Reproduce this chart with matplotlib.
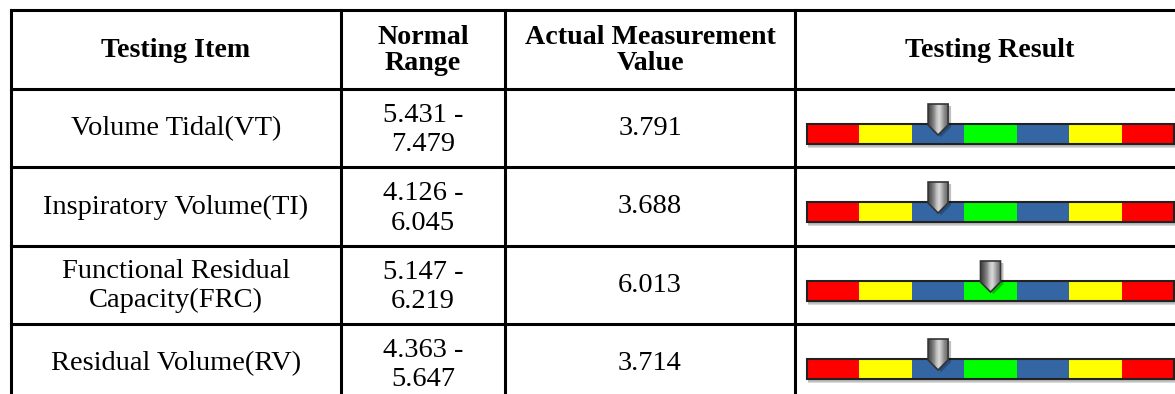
import numpy as np
import matplotlib
matplotlib.use('Agg')
import matplotlib.pyplot as plt
from matplotlib.patches import Rectangle, Polygon

headers = ['Testing Item', 'Normal\nRange', 'Actual Measurement\nValue', 'Testing Result']
items = ['Volume Tidal(VT)', 'Inspiratory Volume(TI)',
         'Functional Residual\nCapacity(FRC)', 'Residual Volume(RV)']
range_lo = ['5.431', '4.126', '5.147', '4.363']
range_hi = ['7.479', '6.045', '6.219', '5.647']
measured = ['3.791', '3.688', '6.013', '3.714']
# which band of the result bar the pointer sits on (0..6)
level = [2, 2, 3, 2]
band_colors = ['#ff0000', '#ffff00', '#3366a3', '#00ff00', '#3366a3', '#ffff00', '#ff0000']

# layout in pixels
W, H = 1175, 394
col_x = [11, 341, 505, 795, 1185]
row_y = [10, 89, 167, 246, 324, 402]
bar_x0, bar_w, bar_h = 807, 367, 20

plt.rcParams['font.family'] = ['Liberation Serif', 'DejaVu Serif']
fig = plt.figure(figsize=(W / 100, H / 100), dpi=100)
ax = fig.add_axes([0, 0, 1, 1])
ax.axis('off')

# grid lines
for y in row_y:
    ax.plot([col_x[0], col_x[-1]], [y, y], color='black', lw=2.2, solid_capstyle='projecting')
for x in col_x[:-1]:
    ax.plot([x, x], [row_y[0], row_y[-1]], color='black', lw=2.2)

# header
hc = (row_y[0] + row_y[1]) / 2 + 1
for i, h in enumerate(headers):
    cx = (col_x[i] + col_x[i + 1]) / 2
    ax.text(cx, hc, h, ha='center', va='center', fontsize=20.2, fontweight='bold',
            linespacing=1.03)

seg = bar_w / len(band_colors)
grad = np.array([[0.30, 0.42, 0.55, 0.75, 0.85, 0.72, 0.55, 0.45]])
for r in range(len(items)):
    top, bot = row_y[r + 1], row_y[r + 2]
    cy = (top + bot) / 2
    ax.text((col_x[0] + col_x[1]) / 2, cy + 1, items[r], ha='center', va='center',
            fontsize=20.5, linespacing=1.2)
    ax.text((col_x[1] + col_x[2]) / 2, cy + 2, range_lo[r] + ' -\n' + range_hi[r],
            ha='center', va='center', fontsize=20.5, linespacing=1.25)
    ax.text((col_x[2] + col_x[3]) / 2, cy, measured[r], ha='center', va='center',
            fontsize=20.5)

    # result bar
    by = top + 35
    for k, a in enumerate([0.12, 0.2, 0.3]):
        ax.add_patch(Rectangle((bar_x0 + 1, by + 2 + k), bar_w, bar_h,
                               color='black', alpha=a * 0.5, lw=0, zorder=2))
    for i, c in enumerate(band_colors):
        ax.add_patch(Rectangle((bar_x0 + i * seg, by), seg, bar_h, facecolor=c,
                               lw=0, zorder=3))
    ax.add_patch(Rectangle((bar_x0, by), bar_w, bar_h, fill=False,
                           edgecolor='#222222', lw=1.5, zorder=4))

    # pointer
    cx = bar_x0 + (level[r] + 0.5) * seg
    mt, tip = top + 15, top + 46
    pts = [(cx - 10, mt), (cx + 10, mt), (cx + 10, tip - 10), (cx, tip), (cx - 10, tip - 10)]
    shadow = Polygon([(x + 3, y + 2) for x, y in pts], closed=True,
                     facecolor='black', alpha=0.25, lw=0, zorder=5)
    ax.add_patch(shadow)
    body = Polygon(pts, closed=True, facecolor='none', edgecolor='#333333',
                   lw=1.2, zorder=7)
    ax.add_patch(body)
    im = ax.imshow(grad, cmap='gray', vmin=0, vmax=1, aspect='auto',
                   extent=(cx - 10, cx + 10, tip, mt), zorder=6,
                   interpolation='bilinear')
    im.set_clip_path(body)

ax.set_xlim(0, W)
ax.set_ylim(H, 0)
fig.savefig('out.png', dpi=100)
